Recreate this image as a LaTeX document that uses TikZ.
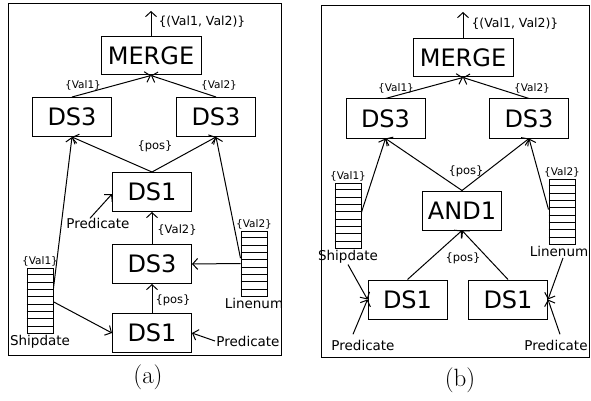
\documentclass[tikz,border=0pt]{standalone}
\usepackage{fontspec}
\newfontfamily\dejavu{DejaVu Sans}
\usetikzlibrary{calc}
\usetikzlibrary{arrows.meta}

\begin{document}
\begin{tikzpicture}[x=1pt,y=-1pt,line width=1pt,
    >={Straight Barb[length=5pt,width=11pt]},
    opbox/.style={draw,minimum width=79pt,minimum height=39pt,inner sep=0pt,
        font=\dejavu\fontsize{24}{28}\selectfont},
    colbox/.style={draw,minimum width=26pt,minimum height=65pt,inner sep=0pt},
    setlbl/.style={font=\dejavu\fontsize{10.5}{12}\selectfont,inner sep=1pt},
    edgelbl/.style={font=\dejavu\fontsize{11.5}{13}\selectfont,inner sep=1pt},
    attrlbl/.style={font=\dejavu\fontsize{13.5}{15}\selectfont,inner sep=1pt}]
    \useasboundingbox (0,0) rectangle (591,401);

    % frames
    \draw (8,4) rectangle (281,355);
    \draw (321,6) rectangle (589,357);

    % panel (a)
    \node[opbox,minimum width=100pt,minimum height=38pt] (mergeA) at (151,56) {MERGE};
    \node[opbox] (dsLA) at (72,117) {DS3};
    \node[opbox] (dsRA) at (216,117) {DS3};
    \node[opbox] (dsMidA) at (152,192) {DS1};
    \node[opbox] (ds3A) at (152,264) {DS3};
    \node[opbox] (ds1A) at (152,333) {DS1};
    \node[colbox] (shipA) at (40,300.5) {};
    \node[colbox] (linA) at (254,263.5) {};
    \coordinate (outA) at (151,11);

    \node[setlbl,above] at (shipA.north) {\{Val1\}};
    \node[attrlbl,below] (shipLblA) at (shipA.south) {Shipdate};
    \node[setlbl,above] at (linA.north) {\{Val2\}};
    \node[attrlbl,below] (linLblA) at (linA.south) {Linenum};
    \node[attrlbl] (predA1) at (98,223) {Predicate};
    \node[attrlbl] (predA2) at (248,341) {Predicate};

    \draw[->] (mergeA.north) -- (outA);
    \node[edgelbl,font=\dejavu\fontsize{12.5}{14}\selectfont,anchor=west] at (157,22) {\{(Val1, Val2)\}};
    \draw[->] (dsLA.north) -- (mergeA.south);
    \draw[->] (dsRA.north) -- (mergeA.south);
    \node[setlbl] at (83,85) {\{Val1\}};
    \node[setlbl] at (219,85) {\{Val2\}};
    \draw[->] (dsMidA.north) -- (dsLA.south);
    \draw[->] (dsMidA.north) -- (dsRA.south);
    \node[edgelbl] at (155,146) {\{pos\}};
    \draw[->] (ds3A.north) -- (dsMidA.south);
    \node[edgelbl] at (177,230) {\{Val2\}};
    \draw[->] (ds1A.north) -- (ds3A.south);
    \node[edgelbl] at (173,300) {\{pos\}};
    \draw[->] ($(shipA.north east)!0.31!(shipA.south east)$) -- (dsLA.south);
    \draw[->] ($(shipA.north east)!0.52!(shipA.south east)$) -- (ds1A.west);
    \draw[->] ($(linA.north west)!0.42!(linA.south west)$) -- (dsRA.south);
    \draw[->] (linA.west) -- (ds3A.east);
    \draw[->] ($(predA1.north)+(-8,2)$) -- ($(dsMidA.west)+(0,2)$);
    \draw[->] (predA2.west) -- (ds1A.east);

    % panel (b)
    \node[opbox,minimum width=100pt,minimum height=38pt] (mergeB) at (463,58) {MERGE};
    \node[opbox] (dsLB) at (385.5,118.5) {DS3};
    \node[opbox] (dsRB) at (529,118.5) {DS3};
    \node[opbox] (andB) at (462,210.5) {AND1};
    \node[opbox] (dsB1) at (407.5,299.5) {DS1};
    \node[opbox] (dsB2) at (508,299.5) {DS1};
    \node[colbox] (shipB) at (348,215.5) {};
    \node[colbox] (linB) at (562,211.5) {};
    \coordinate (outB) at (463,12);

    \node[setlbl,above] at (shipB.north) {\{Val1\}};
    \node[attrlbl,below] (shipLblB) at (shipB.south) {Shipdate};
    \node[setlbl,above] at (linB.north) {\{Val2\}};
    \node[attrlbl,below,xshift=-3pt] (linLblB) at (linB.south) {Linenum};
    \node[attrlbl] (predB1) at (363,345) {Predicate};
    \node[attrlbl] (predB2) at (556,345) {Predicate};

    \draw[->] (mergeB.north) -- (outB);
    \node[edgelbl,font=\dejavu\fontsize{12.5}{14}\selectfont,anchor=west] at (470,24) {\{(Val1, Val2)\}};
    \draw[->] (dsLB.north) -- (mergeB.south);
    \draw[->] (dsRB.north) -- (mergeB.south);
    \node[setlbl] at (396,88) {\{Val1\}};
    \node[setlbl] at (532,88) {\{Val2\}};
    \draw[->] (andB.north) -- (dsLB.south);
    \draw[->] (andB.north) -- (dsRB.south);
    \node[edgelbl] at (466,171) {\{pos\}};
    \draw[->] (dsB1.north) -- (andB.south);
    \draw[->] (dsB2.north) -- (andB.south);
    \node[edgelbl] at (463,258) {\{pos\}};
    \draw[->] ($(shipB.north east)!0.45!(shipB.south east)$) -- (dsLB.south);
    \draw[->] ($(linB.north west)!0.47!(linB.south west)$) -- (dsRB.south);
    \draw[->] (shipLblB.south) -- (dsB1.west);
    \draw[->] ($(linLblB.south)+(4,0)$) -- (dsB2.east);
    \draw[->] ($(predB1.north)+(-10,-4)$) -- (dsB1.west);
    \draw[->] ($(predB2.north)+(4,-4)$) -- (dsB2.east);

    % stripes of the columns
    \foreach \c in {shipA,linA,shipB,linB}
        \foreach \i in {1,...,8}
            \draw ($(\c.north west)!\i/9!(\c.south west)$) -- ($(\c.north east)!\i/9!(\c.south east)$);

    % captions
    \node[font=\fontsize{25}{30}\selectfont] at (148,377) {(a)};
    \node[font=\fontsize{25}{30}\selectfont] at (460,380) {(b)};
\end{tikzpicture}
\end{document}
